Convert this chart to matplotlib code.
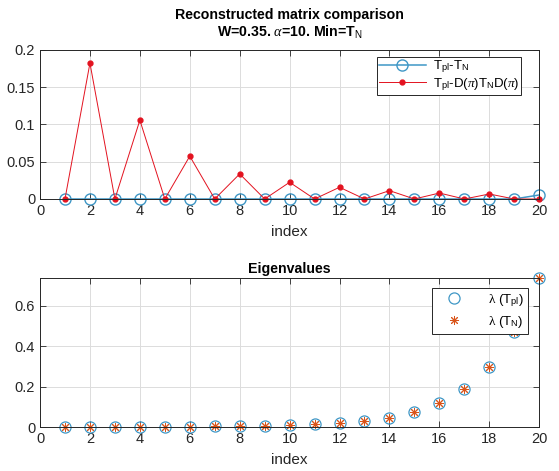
import matplotlib.pyplot as plt
import numpy as np

plt.rcParams['font.family'] = ['Liberation Sans', 'DejaVu Sans']
plt.rcParams['mathtext.fontset'] = 'custom'
plt.rcParams['mathtext.rm'] = 'Liberation Sans'
plt.rcParams['mathtext.it'] = 'Liberation Serif:italic'
plt.rcParams['mathtext.sf'] = 'Liberation Serif'

index = np.arange(1, 21)

# difference between reconstructed matrices
diff_plain = [0, 0, 0, 0, 0, 0, 0, 0, 0, 0,
              0, 0, 0, 0, 0, 0, 0, 0, 0, 0.0054]
diff_flip = [0, 0.182, 0, 0.1056, 0, 0.0574, 0, 0.0336, 0, 0.0224,
             0, 0.0157, 0, 0.0112, 0, 0.0080, 0, 0.0067, 0, 0]

# sorted eigenvalues of both matrices
eig_pl = [0.0002, 0.0003, 0.0005, 0.0008, 0.0012, 0.0018, 0.0027, 0.0040, 0.0058, 0.0085,
          0.0125, 0.0190, 0.0290, 0.0450, 0.0725, 0.1170, 0.1870, 0.2980, 0.4680, 0.7350]
eig_n = [0.0002, 0.0003, 0.0005, 0.0008, 0.0012, 0.0018, 0.0027, 0.0040, 0.0058, 0.0085,
         0.0125, 0.0190, 0.0290, 0.0450, 0.0725, 0.1170, 0.1870, 0.2980, 0.4680, 0.7350]

blue = '#3f97c6'
red = '#e3121f'
orange = '#d9541a'
dark = '#262626'

fig = plt.figure(figsize=(5.59, 4.71), dpi=100)
ax1 = fig.add_axes([0.0716, 0.5775, 0.893, 0.317])
ax2 = fig.add_axes([0.0716, 0.0934, 0.893, 0.316])


def _style(ax):
    ax.grid(True, color='#dcdcdc', linewidth=0.7)
    ax.set_axisbelow(True)
    ax.tick_params(direction='in', top=True, right=True, labelsize=10.5,
                   colors=dark, length=4, width=0.6)
    for s in ax.spines.values():
        s.set_color(dark)
        s.set_linewidth(0.7)
    ax.set_xlim(0, 20)
    ax.set_xticks(range(0, 21, 2))
    ax.set_xlabel('index', fontsize=11, color=dark, labelpad=5)


ax1.plot(index, diff_plain, '-o', color=blue, markerfacecolor='none',
         markersize=8, linewidth=1.1, markeredgewidth=1.0, clip_on=False,
         label=r'T$_{\rm pl}$-T$_{\rm N}$')
ax1.plot(index, diff_flip, linestyle='-', color=red, marker='.', markersize=7,
         linewidth=0.7, clip_on=False,
         label=r'T$_{\rm pl}$-D($\pi$)T$_{\rm N}$D($\pi$)')
_style(ax1)
ax1.set_ylim(0, 0.2)
ax1.set_yticks([0, 0.05, 0.1, 0.15, 0.2])
ax1.set_yticklabels(['0', '0.05', '0.1', '0.15', '0.2'])
ax1.set_title('Reconstructed matrix comparison\n' + r'W=0.35. $\alpha$=10. Min=T$_{\rm N}$',
              fontsize=10.2, fontweight='bold', pad=9, linespacing=1.15)
leg1 = ax1.legend(loc='upper right', bbox_to_anchor=(0.964, 0.953), borderaxespad=0,
                  fontsize=9.5, fancybox=False, edgecolor=dark, framealpha=1,
                  handlelength=3.6, handletextpad=0.5, borderpad=0.15,
                  labelspacing=0.05)
leg1.get_frame().set_linewidth(0.7)

ax2.plot(index, eig_pl, 'o', color=blue, markerfacecolor='none', markersize=8,
         markeredgewidth=0.9, linestyle='none', clip_on=False,
         label=r'$\mathsf{\lambda}$ (T$_{\rm pl}$)')
ax2.plot(index, eig_n, marker=(8, 2, 0), color=orange, markersize=6.5,
         markeredgewidth=0.7, linestyle='none', clip_on=False,
         label=r'$\mathsf{\lambda}$ (T$_{\rm N}$)')
_style(ax2)
ax2.set_ylim(0, 0.735)
ax2.set_yticks([0, 0.2, 0.4, 0.6])
ax2.set_yticklabels(['0', '0.2', '0.4', '0.6'])
ax2.set_title('Eigenvalues', fontsize=10.2, fontweight='bold', pad=4)
leg2 = ax2.legend(loc='upper right', bbox_to_anchor=(0.978, 0.933), borderaxespad=0,
                  fontsize=9.5, fancybox=False, edgecolor=dark, framealpha=1,
                  handlelength=2.8, handletextpad=1.2, borderpad=0.3,
                  labelspacing=0.4)
leg2.get_frame().set_linewidth(0.7)

fig.savefig('out.png', dpi=100)
